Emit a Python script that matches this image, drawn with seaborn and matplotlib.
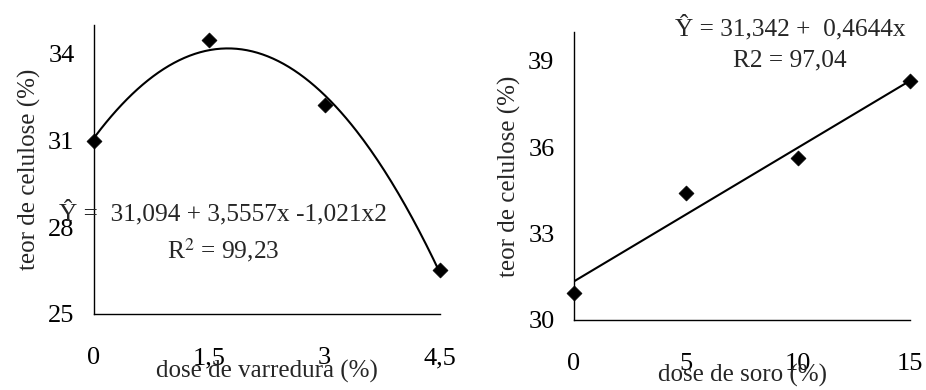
import numpy as np
import pandas as pd
import matplotlib
matplotlib.use("Agg")
import matplotlib.pyplot as plt
import seaborn as sns

# Cellulose content vs. sweeping dose
varredura_dose = [0, 1.5, 3, 4.5]
varredura_celulose = [31.0, 34.47, 32.23, 26.52]
varredura_coef = [31.094, 3.5557, -1.021]  # quadratic fit: a + b x + c x^2
varredura_ticks = [0, 1.5, 3, 4.5]
varredura_ticklabels = ["0", "1,5", "3", "4,5"]
varredura_yticks = [25, 28, 31, 34]

# Cellulose content vs. whey dose
soro_dose = [0, 5, 10, 15]
soro_celulose = [30.93, 34.41, 35.62, 38.29]
soro_coef = [31.342, 0.4644]  # linear fit: a + b x
soro_ticks = [0, 5, 10, 15]
soro_yticks = [30, 33, 36, 39]

sns.set_style("white")
plt.rcParams["font.family"] = ["Liberation Serif", "DejaVu Serif"]
plt.rcParams["mathtext.fontset"] = "stix"

fig = plt.figure(figsize=(9.26, 3.9), dpi=100)
ax1 = fig.add_axes([94 / 926, 1 - 314 / 390, (440 - 94) / 926, (314 - 25) / 390])
ax2 = fig.add_axes([574 / 926, 1 - 320 / 390, (910 - 574) / 926, (320 - 32) / 390])

LABEL_FS = 18
TICK_FS = 19
EQ_FS = 18.3
MARKER_S = 58

# Left panel
xs = np.linspace(0, 4.5, 200)
ys = varredura_coef[0] + varredura_coef[1] * xs + varredura_coef[2] * xs ** 2
sns.lineplot(x=xs, y=ys, ax=ax1, color="black", linewidth=1.5)
sns.scatterplot(x=varredura_dose, y=varredura_celulose, ax=ax1, marker="D",
                s=MARKER_S, color="black", edgecolor="black", linewidth=0.5,
                zorder=3, clip_on=False)
ax1.set_xlim(0, 4.5)
ax1.set_ylim(25, 35)
ax1.set_xticks(varredura_ticks)
ax1.set_xticklabels(varredura_ticklabels)
ax1.set_yticks(varredura_yticks)
ax1.set_xlabel("dose de varredura (%)", fontsize=LABEL_FS, labelpad=-7)
ax1.set_ylabel("teor de celulose (%)", fontsize=LABEL_FS, labelpad=5)
ax1.text(0.374, 0.349, "Ŷ =  31,094 + 3,5557x -1,021x2", transform=ax1.transAxes,
         ha="center", va="center", fontsize=EQ_FS)
ax1.text(0.373, 0.221, "R$^2$ = 99,23", transform=ax1.transAxes,
         ha="center", va="center", fontsize=EQ_FS)

# Right panel
xs2 = np.linspace(0, 15, 50)
ys2 = soro_coef[0] + soro_coef[1] * xs2
sns.lineplot(x=xs2, y=ys2, ax=ax2, color="black", linewidth=1.5)
sns.scatterplot(x=soro_dose, y=soro_celulose, ax=ax2, marker="D",
                s=MARKER_S, color="black", edgecolor="black", linewidth=0.5,
                zorder=3, clip_on=False)
ax2.set_xlim(0, 15)
ax2.set_ylim(30, 40)
ax2.set_xticks(soro_ticks)
ax2.set_yticks(soro_yticks)
ax2.set_xlabel("dose de soro (%)", fontsize=LABEL_FS, labelpad=-8)
ax2.set_ylabel("teor de celulose (%)", fontsize=LABEL_FS, labelpad=5)
fig.text(790.5 / 926, 1 - 28 / 390, "Ŷ = 31,342 +  0,4644x", ha="center", va="center", fontsize=EQ_FS)
fig.text(789.5 / 926, 1 - 60 / 390, "R2 = 97,04", ha="center", va="center", fontsize=EQ_FS)

for ax in (ax1, ax2):
    sns.despine(ax=ax)
    for side in ("left", "bottom"):
        ax.spines[side].set_color("black")
        ax.spines[side].set_linewidth(1.0)
    ax.tick_params(axis="both", which="both", direction="out", length=7, width=1,
                   color="black", labelsize=TICK_FS, labelcolor="black")
    ax.tick_params(axis="x", pad=17)
    ax.tick_params(axis="y", pad=7)
    ax.grid(False)
    ax.set_facecolor("white")

fig.savefig("out.png", dpi=100, facecolor="white")
